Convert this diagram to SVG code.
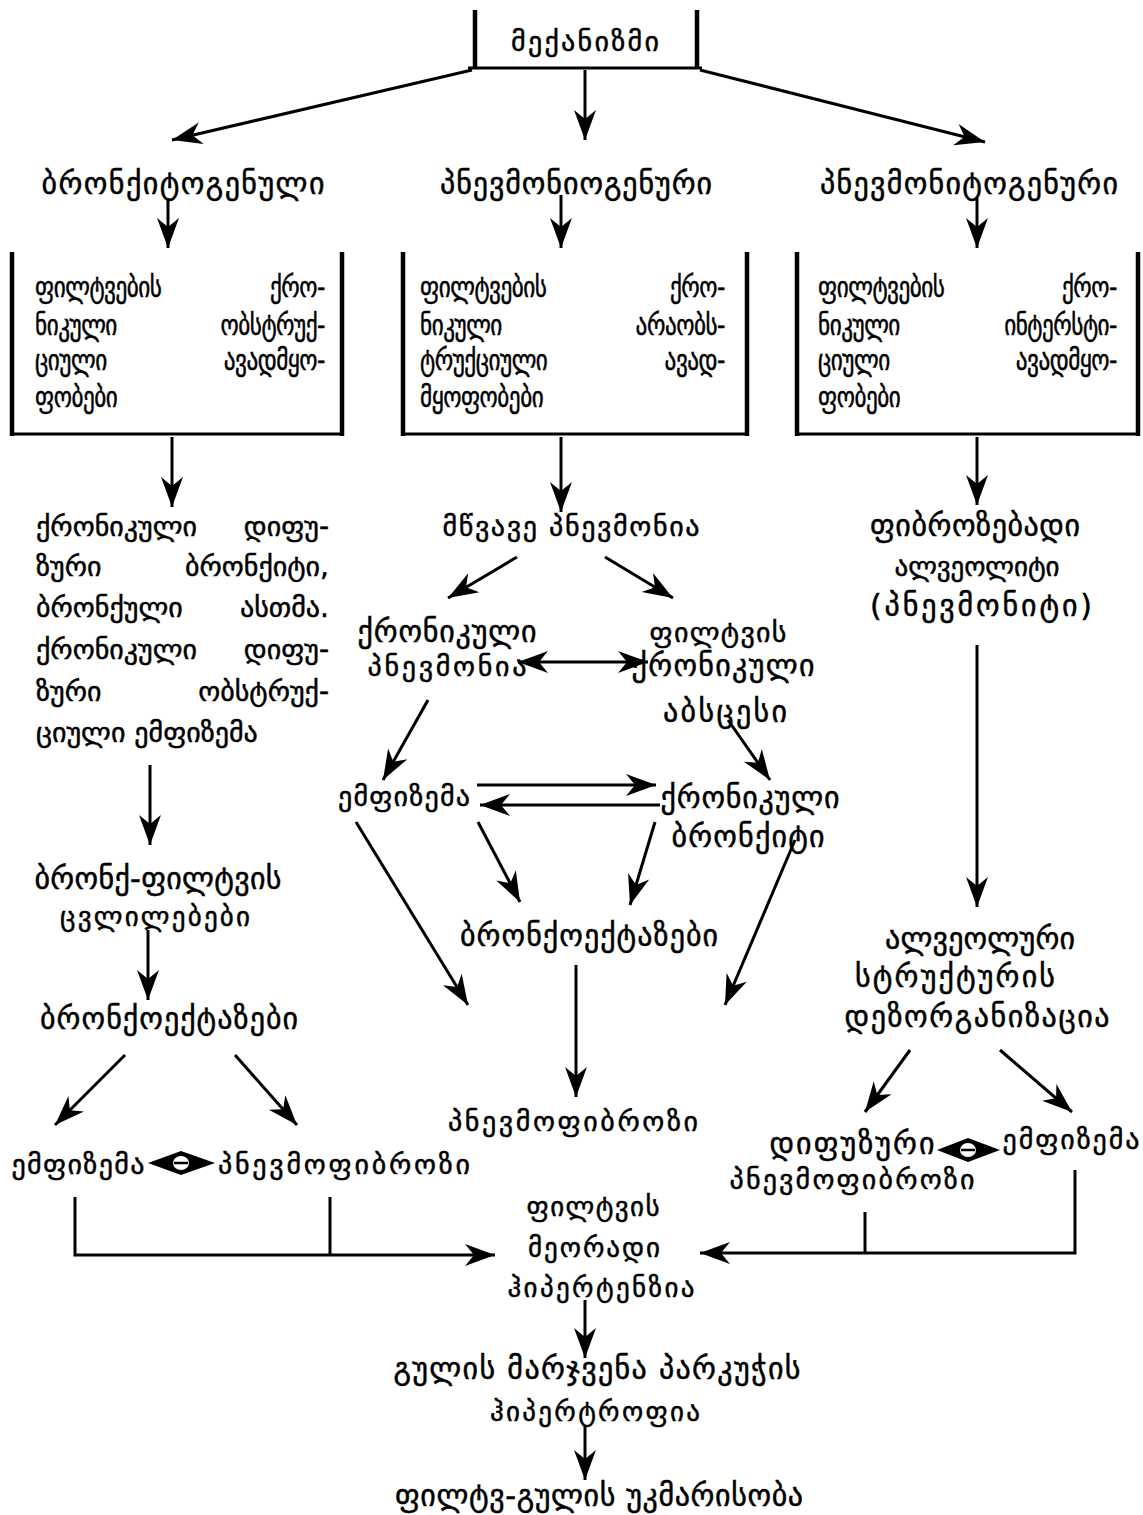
<svg xmlns="http://www.w3.org/2000/svg" width="1143" height="1515" viewBox="0 0 1143 1515">
  <style>
    .t { font-family: "DejaVu Sans", "Noto Sans", sans-serif; font-size: 30px; fill: #000; stroke: #000; stroke-width: 0.5; }
    .b { font-size: 29px; letter-spacing: -0.6px; }
    .f { font-size: 28px; }
    .m { font-size: 28px; }
    .s { font-size: 27px; }
    .c { text-anchor: middle; }
    .e { text-anchor: end; }
    .ln { stroke: #000; stroke-width: 3; fill: none; }
    .ar { stroke: #000; stroke-width: 3; fill: none; marker-end: url(#ah); }
    .bar { stroke: #000; stroke-width: 4.5; fill: none; }
  </style>
  <defs>
    <marker id="ah" markerUnits="userSpaceOnUse" markerWidth="34" markerHeight="26" viewBox="-32 -13 34 26" refX="0" refY="0" orient="auto-start-reverse">
      <path d="M0,0 L-30,-11 L-21,0 L-30,11 Z" fill="#000"/>
    </marker>
  </defs>
  <rect width="1143" height="1515" fill="#fff"/>

  <!-- connectors -->
  <g id="connectors">
    <line class="ar" x1="472" y1="70" x2="172" y2="140"/>
    <line class="ar" x1="585" y1="70" x2="585" y2="140"/>
    <line class="ar" x1="700" y1="70" x2="985" y2="142"/>

    <line class="ar" x1="168" y1="198" x2="168" y2="248"/>
    <line class="ar" x1="561" y1="195" x2="561" y2="248"/>
    <line class="ar" x1="977" y1="198" x2="977" y2="248"/>

    <line class="ar" x1="172" y1="437" x2="172" y2="507"/>
    <line class="ar" x1="561" y1="437" x2="561" y2="512"/>
    <line class="ar" x1="977" y1="437" x2="977" y2="505"/>

    <line class="ar" x1="150" y1="765" x2="150" y2="845"/>
    <line class="ar" x1="148" y1="930" x2="148" y2="1000"/>
    <line class="ar" x1="125" y1="1055" x2="55" y2="1125"/>
    <line class="ar" x1="235" y1="1055" x2="297" y2="1125"/>
    <polyline class="ar" points="75,1197 75,1255 495,1255"/>
    <line class="ln" x1="330" y1="1197" x2="330" y2="1255"/>

    <line class="ar" x1="517" y1="557" x2="448" y2="598"/>
    <line class="ar" x1="605" y1="557" x2="673" y2="598"/>
    <line class="ar" x1="518" y1="662" x2="648" y2="662" marker-start="url(#ah)"/>
    <line class="ar" x1="428" y1="700" x2="383" y2="780"/>
    <line class="ar" x1="728" y1="720" x2="770" y2="780"/>
    <line class="ar" x1="477" y1="785" x2="656" y2="785"/>
    <line class="ar" x1="660" y1="805" x2="480" y2="805"/>
    <line class="ar" x1="478" y1="822" x2="520" y2="902"/>
    <line class="ar" x1="655" y1="822" x2="630" y2="905"/>
    <line class="ar" x1="356" y1="822" x2="468" y2="1005"/>
    <line class="ar" x1="795" y1="840" x2="725" y2="1005"/>
    <line class="ar" x1="576" y1="965" x2="576" y2="1097"/>
    <line class="ar" x1="585" y1="1300" x2="585" y2="1358"/>
    <line class="ar" x1="585" y1="1425" x2="585" y2="1480"/>

    <line class="ar" x1="977" y1="645" x2="977" y2="907"/>
    <line class="ar" x1="910" y1="1050" x2="865" y2="1112"/>
    <line class="ar" x1="1000" y1="1050" x2="1072" y2="1112"/>
    <polyline class="ar" points="1075,1170 1075,1253 700,1253"/>
    <line class="ln" x1="865" y1="1212" x2="865" y2="1253"/>

    <!-- two-way links with a stop mark in the middle -->
    <g id="link-left">
      <path d="M148,1163 L181,1151 L215,1163 L181,1175 Z" fill="#000"/>
      <ellipse cx="181" cy="1163" rx="8" ry="7" fill="#fff"/>
      <line x1="174" y1="1163" x2="188" y2="1163" stroke="#000" stroke-width="2.5"/>
    </g>
    <g id="link-right">
      <path d="M937,1150 L968,1138 L1000,1150 L968,1162 Z" fill="#000"/>
      <ellipse cx="968" cy="1150" rx="8" ry="7" fill="#fff"/>
      <line x1="961" y1="1150" x2="975" y2="1150" stroke="#000" stroke-width="2.5"/>
    </g>
  </g>

  <g id="n-mechanism">
    <line class="bar" x1="475" y1="10" x2="475" y2="69"/>
    <line class="bar" x1="697" y1="10" x2="697" y2="69"/>
    <line class="ln" x1="468" y1="68" x2="702" y2="68"/>
    <text class="t m c" x="585" y="51" textLength="148" lengthAdjust="spacing">მექანიზმი</text>
  </g>

  <g id="n-bronchitogenic"><text class="t c" x="183" y="194" textLength="283" lengthAdjust="spacing">ბრონქიტოგენული</text></g>
  <g id="n-pneumoniogenic"><text class="t c" x="576" y="194" textLength="272" lengthAdjust="spacing">პნევმონიოგენური</text></g>
  <g id="n-pneumonitogenic"><text class="t c" x="969" y="194" textLength="298" lengthAdjust="spacing">პნევმონიტოგენური</text></g>

  <!-- box texts: narrowed glyphs, first word flush left, last word flush right -->
  <g id="n-box-obstructive">
    <line class="bar" x1="12" y1="252" x2="12" y2="436"/>
    <line class="bar" x1="342" y1="252" x2="342" y2="436"/>
    <line class="ln" x1="12" y1="434" x2="342" y2="434"/>
    <text class="t b" transform="translate(35,297) scale(0.8,1)">ფილტვების</text><text class="t b e" transform="translate(325,297) scale(0.8,1)">ქრო-</text>
    <text class="t b" transform="translate(35,335) scale(0.8,1)">ნიკული</text><text class="t b e" transform="translate(325,335) scale(0.8,1)">ობსტრუქ-</text>
    <text class="t b" transform="translate(35,370) scale(0.8,1)">ციული</text><text class="t b e" transform="translate(325,370) scale(0.8,1)">ავადმყო-</text>
    <text class="t b" transform="translate(35,407) scale(0.8,1)">ფობები</text>
  </g>

  <g id="n-box-nonobstructive">
    <line class="bar" x1="403" y1="252" x2="403" y2="436"/>
    <line class="bar" x1="747" y1="252" x2="747" y2="436"/>
    <line class="ln" x1="403" y1="434" x2="747" y2="434"/>
    <text class="t b" transform="translate(420,297) scale(0.8,1)">ფილტვების</text><text class="t b e" transform="translate(725,297) scale(0.8,1)">ქრო-</text>
    <text class="t b" transform="translate(420,335) scale(0.8,1)">ნიკული</text><text class="t b e" transform="translate(725,335) scale(0.8,1)">არაობს-</text>
    <text class="t b" transform="translate(420,370) scale(0.8,1)">ტრუქციული</text><text class="t b e" transform="translate(725,370) scale(0.8,1)">ავად-</text>
    <text class="t b" transform="translate(420,407) scale(0.8,1)">მყოფობები</text>
  </g>

  <g id="n-box-interstitial">
    <line class="bar" x1="797" y1="252" x2="797" y2="436"/>
    <line class="bar" x1="1138" y1="252" x2="1138" y2="436"/>
    <line class="ln" x1="797" y1="434" x2="1138" y2="434"/>
    <text class="t b" transform="translate(818,297) scale(0.8,1)">ფილტვების</text><text class="t b e" transform="translate(1117,297) scale(0.8,1)">ქრო-</text>
    <text class="t b" transform="translate(818,335) scale(0.8,1)">ნიკული</text><text class="t b e" transform="translate(1117,335) scale(0.8,1)">ინტერსტი-</text>
    <text class="t b" transform="translate(818,370) scale(0.8,1)">ციული</text><text class="t b e" transform="translate(1117,370) scale(0.8,1)">ავადმყო-</text>
    <text class="t b" transform="translate(818,407) scale(0.8,1)">ფობები</text>
  </g>

  <g id="n-chronic-diffuse">
    <text class="t f" x="36" y="536">ქრონიკული</text><text class="t f e" x="329" y="536">დიფუ-</text>
    <text class="t f" x="36" y="576">ზური</text><text class="t f e" x="329" y="576">ბრონქიტი,</text>
    <text class="t f" x="36" y="617">ბრონქული</text><text class="t f e" x="329" y="617">ასთმა.</text>
    <text class="t f" x="36" y="659">ქრონიკული</text><text class="t f e" x="329" y="659">დიფუ-</text>
    <text class="t f" x="36" y="701">ზური</text><text class="t f e" x="329" y="701">ობსტრუქ-</text>
    <text class="t f" x="36" y="742">ციული ემფიზემა</text>
  </g>

  <g id="n-bronchopulmonary"><text class="t c" x="158" y="889" textLength="247" lengthAdjust="spacing">ბრონქ-ფილტვის</text><text class="t s c" x="155" y="926" textLength="190" lengthAdjust="spacing">ცვლილებები</text></g>
  <g id="n-bronchiectasis-left"><text class="t c" x="169" y="1029" textLength="258" lengthAdjust="spacing">ბრონქოექტაზები</text></g>
  <g id="n-emphysema-left"><text class="t m c" x="78" y="1174" textLength="133" lengthAdjust="spacing">ემფიზემა</text></g>
  <g id="n-pneumofibrosis-left"><text class="t m c" x="344" y="1174" textLength="252" lengthAdjust="spacing">პნევმოფიბროზი</text></g>

  <g id="n-acute-pneumonia"><text class="t m c" x="571" y="536" textLength="257" lengthAdjust="spacing">მწვავე პნევმონია</text></g>
  <g id="n-chronic-pneumonia"><text class="t c" x="447" y="642" textLength="179" lengthAdjust="spacing">ქრონიკული</text><text class="t m c" x="447" y="676" textLength="159" lengthAdjust="spacing">პნევმონია</text></g>
  <g id="n-abscess"><text class="t m c" x="718" y="642" textLength="137" lengthAdjust="spacing">ფილტვის</text><text class="t c" x="723" y="676" textLength="183" lengthAdjust="spacing">ქრონიკული</text><text class="t c" x="725" y="722" textLength="124" lengthAdjust="spacing">აბსცესი</text></g>
  <g id="n-emphysema-mid"><text class="t m c" x="404" y="806" textLength="132" lengthAdjust="spacing">ემფიზემა</text></g>
  <g id="n-chronic-bronchitis"><text class="t c" x="750" y="808" textLength="179" lengthAdjust="spacing">ქრონიკული</text><text class="t c" x="748" y="847" textLength="153" lengthAdjust="spacing">ბრონქიტი</text></g>
  <g id="n-bronchiectasis-mid"><text class="t c" x="589" y="946" textLength="258" lengthAdjust="spacing">ბრონქოექტაზები</text></g>
  <g id="n-pneumofibrosis-mid"><text class="t m c" x="573" y="1131" textLength="250" lengthAdjust="spacing">პნევმოფიბროზი</text></g>
  <g id="n-hypertension"><text class="t s c" x="593" y="1216" textLength="133" lengthAdjust="spacing">ფილტვის</text><text class="t s c" x="594" y="1257" textLength="132" lengthAdjust="spacing">მეორადი</text><text class="t s c" x="601" y="1297" textLength="187" lengthAdjust="spacing">ჰიპერტენზია</text></g>
  <g id="n-hypertrophy"><text class="t c" x="597" y="1379" textLength="407" lengthAdjust="spacing">გულის მარჯვენა პარკუჭის</text><text class="t s c" x="595" y="1421" textLength="210" lengthAdjust="spacing">ჰიპერტროფია</text></g>
  <g id="n-failure"><text class="t c" x="599" y="1506" textLength="408" lengthAdjust="spacing">ფილტვ-გულის უკმარისობა</text></g>

  <g id="n-alveolitis"><text class="t c" x="975" y="536" textLength="210" lengthAdjust="spacing">ფიბროზებადი</text><text class="t s c" x="977" y="576" textLength="165" lengthAdjust="spacing">ალვეოლიტი</text><text class="t c" x="981" y="616" textLength="222" lengthAdjust="spacing">(პნევმონიტი)</text></g>
  <g id="n-disorganization"><text class="t c" x="980" y="949" textLength="190" lengthAdjust="spacing">ალვეოლური</text><text class="t c" x="955" y="987" textLength="200" lengthAdjust="spacing">სტრუქტურის</text><text class="t c" x="977" y="1027" textLength="265" lengthAdjust="spacing">დეზორგანიზაცია</text></g>
  <g id="n-diffuse-fibrosis"><text class="t c" x="852" y="1154" textLength="165" lengthAdjust="spacing">დიფუზური</text><text class="t m c" x="852" y="1189" textLength="245" lengthAdjust="spacing">პნევმოფიბროზი</text></g>
  <g id="n-emphysema-right"><text class="t m c" x="1071" y="1149" textLength="137" lengthAdjust="spacing">ემფიზემა</text></g>
</svg>
